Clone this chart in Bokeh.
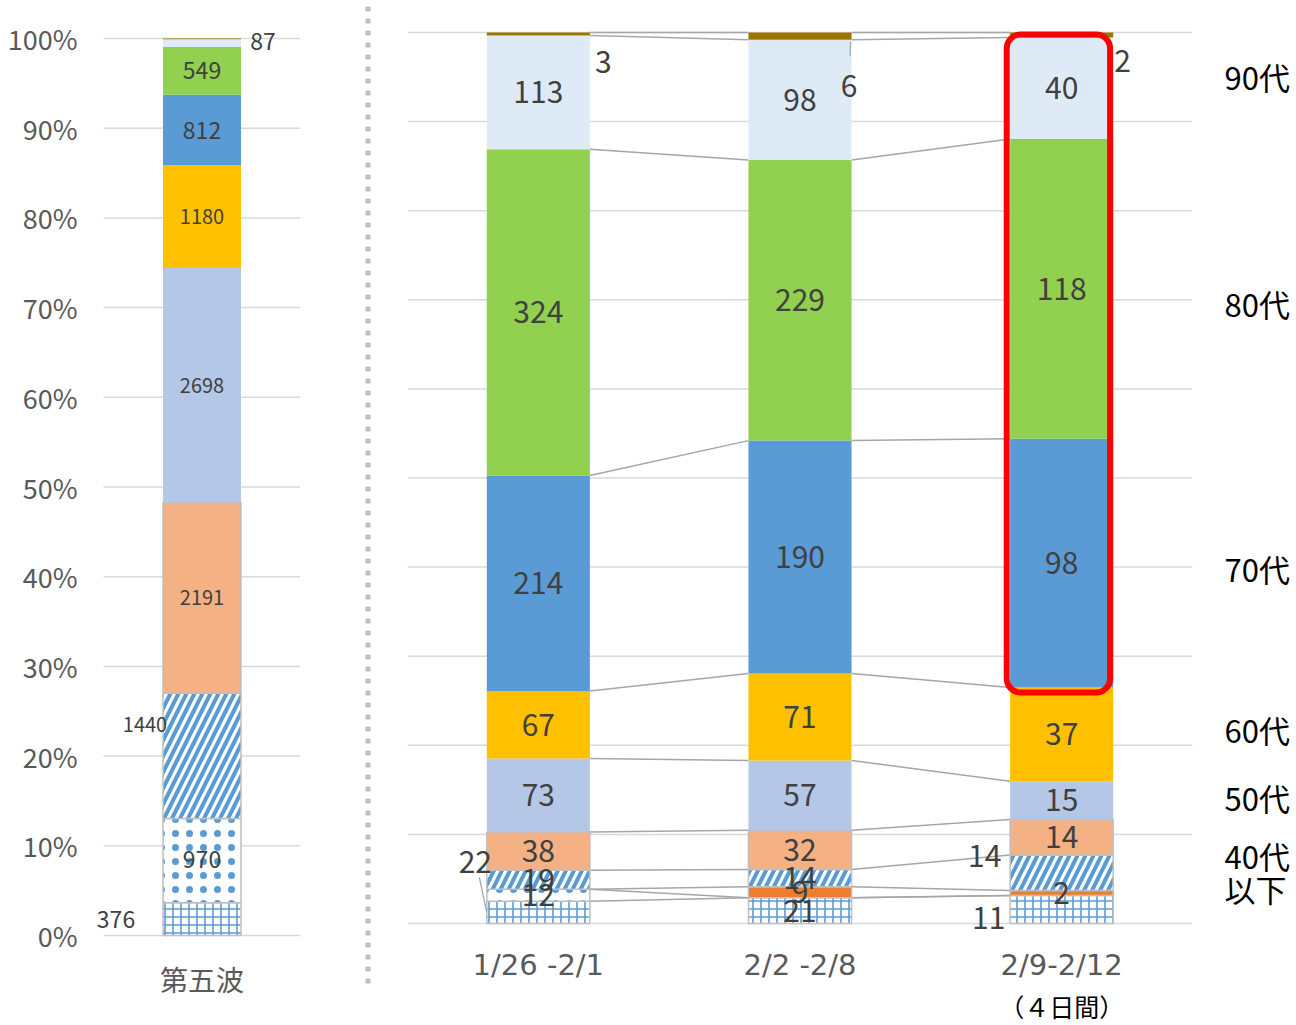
from bokeh.plotting import figure
from bokeh.layouts import row
from bokeh.models import ColumnDataSource, FixedTicker, Range1d, BoxAnnotation, Label, LinearAxis
from bokeh.core.properties import value
from bokeh.embed import file_html
from bokeh.resources import INLINE
import numpy as np

# ---------------- data ----------------
series = ["10歳未満", "10代", "20代", "30代", "40代", "50代", "60代", "70代", "80代", "90代", "100歳以上"]
wave5 = [376, 970, 0, 1440, 2191, 2698, 1180, 812, 549, 87, 10]
week1 = [22, 12, 0, 19, 38, 73, 67, 214, 324, 113, 3]
week2 = [21, 0, 9, 14, 32, 57, 71, 190, 229, 98, 6]
week3 = [11, 0, 2, 14, 14, 15, 37, 98, 118, 40, 2]
left_category = "第五波"
week_labels = ["1/26 -2/1", "2/2 -2/8", "2/9-2/12"]
week3_note = "（４日間）"
y_ticks = [0, 10, 20, 30, 40, 50, 60, 70, 80, 90, 100]
y_tick_labels = ["0%", "10%", "20%", "30%", "40%", "50%", "60%", "70%", "80%", "90%", "100%"]
side_labels = ["90代", "80代", "70代", "60代", "50代", "40代", "以下"]

# ---------------- styles ----------------
FONT = "Noto Sans CJK JP"
FONT_CAT = "DejaVu Sans"
fills = ["white", "white", "#ED7D31", "white", "#F4B183", "#B4C7E7", "#FFC000",
         "#5B9BD5", "#92D050", "#DEEBF7", "#9C7400"]
hatches = ["+", ".", None, "/", None, None, None, None, None, None, None]
hatch_scales = [8, 14, None, 16, None, None, None, None, None, None, None]
hatch_weights = [1.6, 1.0, None, 4, None, None, None, None, None, None, None]
outlines = ["#BFBFBF"] * 5 + [None] * 6
GRID = "#D9D9D9"
AXIS_TXT = "#595959"
VAL_TXT = "#404040"
CONN = "#A6A6A6"

H = 1025


def cum_pct(vals):
    tot = float(sum(vals))
    pct = np.array(vals, dtype=float) / tot * 100.0
    tops = np.cumsum(pct)
    return tops - pct, tops


def bar_kwargs(s):
    kw = dict(fill_color=fills[s], line_color=outlines[s], line_width=1.5)
    if hatches[s]:
        kw.update(hatch_pattern=hatches[s], hatch_color="#5B9BD5",
                  hatch_scale=hatch_scales[s], hatch_weight=hatch_weights[s])
    return kw


# ---------------- left chart ----------------
L_W, L_LEFT, L_RIGHT = 355, 95, 55
l_ky = 8.97          # px per percent
l_kx = 197.0         # px per x unit (gridline span)
l_zero = 935         # px position of 0 %
pl = figure(width=L_W, height=H, output_backend="svg", toolbar_location=None,
            x_range=Range1d(-0.5 - 8 / l_kx, 0.5),
            y_range=Range1d(-(H - l_zero) / l_ky, l_zero / l_ky),
            min_border_left=L_LEFT, min_border_right=L_RIGHT,
            min_border_top=0, min_border_bottom=0, x_axis_location=None)
pl.outline_line_color = None
pl.grid.visible = False
pl.segment(x0=[-0.5] * len(y_ticks), y0=y_ticks, x1=[0.5] * len(y_ticks), y1=y_ticks,
           line_color=GRID, line_width=1.5, level="underlay")
pl.yaxis.ticker = FixedTicker(ticks=y_ticks)
pl.yaxis.major_label_overrides = dict(zip(y_ticks, y_tick_labels))
pl.yaxis.axis_line_color = None
pl.yaxis.major_tick_line_color = None
pl.yaxis.minor_tick_line_color = None
pl.yaxis.major_label_standoff = 12
pl.yaxis.major_label_text_font = FONT
pl.yaxis.major_label_text_font_size = "27px"
pl.yaxis.major_label_text_color = AXIS_TXT

lb, lt = cum_pct(wave5)
L_BW = 78 / l_kx
for s in range(len(series)):
    if wave5[s] <= 0:
        continue
    src = ColumnDataSource(dict(x=[0], b=[lb[s]], t=[lt[s]]))
    pl.vbar(x="x", bottom="b", top="t", width=L_BW, source=src, **bar_kwargs(s))

# category label under the bar
pl.text(x=[0], y=[-(978 - l_zero) / l_ky], text=[left_category], text_align="center",
        text_baseline="middle", text_font=value(FONT), text_font_size="28px", text_color=AXIS_TXT)

# value labels: (dx px right, dy px up, font px)
left_lab = {0: (-86, 0, 23), 1: (0, 1, 23), 3: (-57, 31, 20), 4: (0, 0, 20), 5: (0, 0, 20),
            6: (0, 0, 20), 7: (0, 0, 23), 8: (0, 0, 23), 9: (61, 2, 23)}
for s, (dx, dy, fs) in left_lab.items():
    yc = (lb[s] + lt[s]) / 2 + dy / l_ky
    pl.add_layout(Label(x=dx / l_kx, y=yc, text=str(wave5[s]), text_align="center",
                        text_baseline="middle", text_font=FONT, text_font_size=f"{fs}px",
                        text_color=VAL_TXT))

# ---------------- separator ----------------
sep = figure(width=25, height=H, output_backend="svg", toolbar_location=None,
             x_range=Range1d(0, 1), y_range=Range1d(0, H),
             min_border=0, x_axis_location=None, y_axis_location=None)
sep.outline_line_color = None
sep.grid.visible = False
sep.segment(x0=[0.5], y0=[H - 6], x1=[0.5], y1=[H - 985], line_color="#BFBFBF",
            line_width=5, line_dash="5 7", line_cap="butt")

# ---------------- right chart ----------------
R_W, R_LEFT, R_RIGHT = 916, 27, 104
r_ky = 8.91
r_kx = (R_W - R_LEFT - R_RIGHT) / 3.0
r_zero = 923
pr = figure(width=R_W, height=H, output_backend="svg", toolbar_location=None,
            x_range=Range1d(-0.5, 2.5), y_range=Range1d(-(H - r_zero) / r_ky, r_zero / r_ky),
            min_border_left=R_LEFT, min_border_right=R_RIGHT,
            min_border_top=0, min_border_bottom=0,
            x_axis_location=None, y_axis_location=None)
pr.outline_line_color = None
pr.grid.visible = False
pr.segment(x0=[-0.5] * len(y_ticks), y0=y_ticks, x1=[2.5] * len(y_ticks), y1=y_ticks,
           line_color=GRID, line_width=1.5, level="underlay")

# category labels
pr.text(x=[0, 1, 2], y=[-(964 - r_zero) / r_ky] * 3, text=week_labels, text_align="center",
        text_baseline="middle", text_font=value(FONT_CAT), text_font_size="29px",
        text_color=AXIS_TXT)
pr.text(x=[2], y=[-(1005 - r_zero) / r_ky], text=[week3_note], text_align="center",
        text_baseline="middle", text_font=value(FONT), text_font_size="25px", text_color="#000000")

# age group labels on the right side
side_px = [76, 303, 568, 729, 797, 855, 888]      # vertical placement (px from top)
side_ticks = [(r_zero - p) / r_ky for p in side_px]
side_axis = LinearAxis(ticker=FixedTicker(ticks=side_ticks),
                       axis_line_color=None, major_tick_line_color=None, minor_tick_line_color=None,
                       major_label_standoff=26, major_label_text_font=FONT,
                       major_label_text_font_size="31px", major_label_text_color="#000000")
side_axis.major_label_overrides = dict(zip(side_ticks, side_labels))
pr.add_layout(side_axis, "right")

weeks = [week1, week2, week3]
cums = [cum_pct(w) for w in weeks]
HW = 0.197
BW = 2 * HW

# series connector lines (under bars)
for j in range(2):
    tj = cums[j][1]
    tk = cums[j + 1][1]
    pr.segment(x0=[j + HW] * len(series), y0=list(tj), x1=[j + 1 - HW] * len(series), y1=list(tk),
               line_color=CONN, line_width=1.5)

for s in range(len(series)):
    xs, bs, ts = [], [], []
    for j in range(3):
        if weeks[j][s] > 0:
            xs.append(j)
            bs.append(cums[j][0][s])
            ts.append(cums[j][1][s])
    if xs:
        src = ColumnDataSource(dict(x=xs, b=bs, t=ts))
        pr.vbar(x="x", bottom="b", top="t", width=BW, source=src, **bar_kwargs(s))

# value labels: (week, series) -> (dx px right, dy px up)
right_off = {(0, 0): (-63, 50), (0, 10): (65, -28), (1, 10): (49, -50),
             (2, 0): (-73, -8), (2, 3): (-77, 17), (2, 10): (61, -26)}
lab_pos = {}
for j in range(3):
    for s in range(len(series)):
        v = weeks[j][s]
        if v <= 0:
            continue
        dx, dy = right_off.get((j, s), (0, 0))
        x = j + dx / r_kx
        y = (cums[j][0][s] + cums[j][1][s]) / 2 + dy / r_ky
        lab_pos[(j, s)] = (x, y)
        pr.add_layout(Label(x=x, y=y, text=str(v), text_align="center", text_baseline="middle",
                            text_font=FONT, text_font_size="30px", text_color=VAL_TXT))

# leader lines
x_l, y_l = lab_pos[(0, 0)]
pr.segment(x0=[x_l + 4 / r_kx], y0=[y_l - 15 / r_ky], x1=[-HW], y1=[(cums[0][0][0] + cums[0][1][0]) / 2],
           line_color=CONN, line_width=1.3)
x_l, y_l = lab_pos[(1, 10)]
pr.segment(x0=[1 + HW - 1 / r_kx], y0=[cums[1][0][10] - 1.5 / r_ky], x1=[x_l + 1 / r_kx], y1=[y_l + 30 / r_ky],
           line_color=CONN, line_width=1.3)

# highlight box around the latest week
pr.add_layout(BoxAnnotation(left=2 - 0.21, right=2 + 0.185, top=100 - 2 / r_ky,
                            bottom=cums[2][1][6] - 5 / r_ky, fill_alpha=0,
                            line_color="#FF0000", line_alpha=1.0, line_width=6, border_radius=14))

layout = row(pl, sep, pr)
html = file_html(layout, INLINE)
open("out.html", "w").write(html)
